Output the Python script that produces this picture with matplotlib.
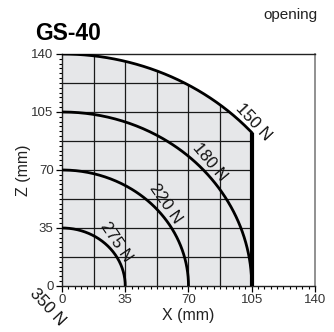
import numpy as np
import matplotlib
matplotlib.use("Agg")
import matplotlib.pyplot as plt
from matplotlib.patches import Polygon
from matplotlib.ticker import MultipleLocator

# force limit curves: radius (mm) of each quarter arc and its label
radii = [35, 70, 105]
force_labels = ["275 N", "220 N", "180 N"]
outer_radius = 140
outer_label = "150 N"
x_limit = 105          # stroke limit in X
origin_label = "350 N"

# label placement (data coords) and rotation
label_pos = {"275 N": (29.8, 26.5, -56), "220 N": (57.5, 49.5, -55),
             "180 N": (81.8, 74.8, -50), "150 N": (106, 99, -47),
             "350 N": (-8.3, -12.7, -47)}

ticks = [0, 35, 70, 105, 140]
grid_step = 17.5

plt.rcParams['font.family'] = ['Liberation Sans', 'DejaVu Sans']

fig = plt.figure(figsize=(3.34, 3.32), dpi=100)
ax = fig.add_axes([0.1856, 0.1386, 0.7575, 0.6988])
ax.set_xlim(0, 140)
ax.set_ylim(0, 140)

# shaded working area: outer arc clipped at x_limit
x_end = x_limit
z_end = np.sqrt(outer_radius**2 - x_end**2)
t = np.linspace(np.pi / 2, np.arctan2(z_end, x_end), 200)
arc = np.column_stack([outer_radius * np.cos(t), outer_radius * np.sin(t)])
poly_pts = np.vstack([[[0, 0]], arc, [[x_end, 0]]])
area = Polygon(poly_pts, closed=True, facecolor='#e6e7e9', edgecolor='none', zorder=1)
ax.add_patch(area)

# grid inside the area only
gpos = np.arange(grid_step, 140, grid_step)
vl = ax.vlines(gpos, 0, 140, colors='#1a1a1a', linewidth=0.9, zorder=2)
hl = ax.hlines(gpos, 0, 140, colors='#1a1a1a', linewidth=0.9, zorder=2)
vl.set_clip_path(area)
hl.set_clip_path(area)

# inner arcs
th = np.linspace(0, np.pi / 2, 200)
for r in radii:
    ax.plot(r * np.cos(th), r * np.sin(th), color='black', linewidth=2.0, zorder=3,
            solid_capstyle='butt')

# outer boundary
ax.plot(arc[:, 0], arc[:, 1], color='black', linewidth=2.0, zorder=3)
ax.plot([x_end, x_end], [0, z_end], color='black', linewidth=3.0, zorder=3,
        solid_capstyle='butt')

for lab in force_labels + [outer_label, origin_label]:
    lx, ly, rot = label_pos[lab]
    ax.text(lx, ly, lab, rotation=rot, rotation_mode='anchor', ha='center', va='center',
            fontsize=12, color='#111', clip_on=False, zorder=4)

ax.set_xticks(ticks)
ax.set_yticks(ticks)
ax.xaxis.set_minor_locator(MultipleLocator(3.5))
ax.yaxis.set_minor_locator(MultipleLocator(grid_step / 6))
ax.tick_params(which='major', direction='out', length=4, width=0.9, labelsize=9.5,
               labelcolor='#333', pad=2)
ax.tick_params(which='minor', direction='out', length=2.2, width=0.8)
ax.set_xlabel("X (mm)", fontsize=11.5, labelpad=1, color='#222')
ax.set_ylabel("Z (mm)", fontsize=11.5, labelpad=0, color='#222')

for s in ['left', 'bottom', 'top']:
    ax.spines[s].set_color('#222')
    ax.spines[s].set_linewidth(1.0)
ax.spines['right'].set_color('#888')
ax.spines['right'].set_linewidth(1.3)

fig.text(0.105, 0.9, "GS-40", fontsize=16.5, fontweight='bold', ha='left', va='center')
fig.text(0.95, 0.955, "opening", fontsize=11, ha='right', va='center', color='#222')

fig.savefig("out.png", dpi=100)
